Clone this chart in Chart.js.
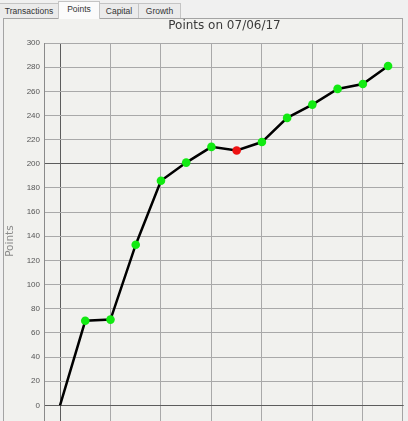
<!DOCTYPE html>
<html><head><meta charset="utf-8">
<script src="https://cdn.jsdelivr.net/npm/chart.js@4"></script>
<style>
html,body{margin:0;padding:0;width:408px;height:421px;overflow:hidden;background:#f0f0f0;font-family:"Liberation Sans",Arial,sans-serif;}
#tabs{position:absolute;left:0;top:0;width:408px;height:19px;}
.tab{position:absolute;top:3px;height:15px;border:1px solid #c4c4c4;border-bottom:none;background:#ebebeb;font-size:8.5px;color:#333;line-height:15px;text-align:center;box-sizing:border-box;}
.tab.sel{top:1px;height:18px;background:#fbfbfb;z-index:3;line-height:15px;}
#panel{position:absolute;left:3px;top:18px;width:400px;height:430px;border:1px solid #a4a4a4;background:#f1f1ee;box-sizing:border-box;}
#title{position:absolute;left:44px;width:361px;top:18px;line-height:14px;text-align:center;font-family:"DejaVu Sans";font-size:12px;color:#3a3a3a;z-index:2;}
#wrap{position:absolute;left:0;top:0;width:408px;height:448px;z-index:1;}
</style>
</head><body>
<div id="tabs">
  <div class="tab" style="left:-1px;width:60px;">Transactions</div>
  <div class="tab sel" style="left:58px;width:42px;">Points</div>
  <div class="tab" style="left:99px;width:40px;">Capital</div>
  <div class="tab" style="left:138px;width:43px;">Growth</div>
</div>
<div id="panel"></div>
<div id="title">Points on 07/06/17</div>
<div id="wrap"><canvas id="c"></canvas></div>
<script>
const dayIndex = [0, 1, 2, 3, 4, 5, 6, 7, 8, 9, 10, 11, 12, 13];
const points   = [0, 70, 71, 133, 186, 201, 214, 211, 218, 238, 249, 262, 266, 281];
const yAxisTitle = 'Points';

const GREEN = '#12ea12', RED = '#ee1212';
const darkGrid = '#5c5c5c', lightGrid = '#a9a9a9';

new Chart(document.getElementById('c'), {
  type: 'line',
  data: {
    datasets: [{
      data: dayIndex.map((d, i) => ({ x: d, y: points[i] })),
      borderColor: '#000',
      borderWidth: 2.5,
      tension: 0,
      pointRadius: c => c.dataIndex === 0 ? 0 : 4.3,
      pointHoverRadius: c => c.dataIndex === 0 ? 0 : 4.3,
      pointBorderWidth: 0,
      pointBackgroundColor: c => {
        const i = c.dataIndex;
        return i > 0 && points[i] < points[i - 1] ? RED : GREEN;
      }
    }]
  },
  options: {
    animation: false,
    responsive: true,
    maintainAspectRatio: false,
    layout: { padding: { left: 0, right: 1, top: 43, bottom: 0 } },
    plugins: { legend: { display: false }, tooltip: { enabled: false } },
    scales: {
      x: {
        type: 'linear', min: -0.635, max: 13.62,
        ticks: { display: false, stepSize: 2, includeBounds: false },
        grid: { color: c => (c.tick && c.tick.value === 0) ? darkGrid : lightGrid, lineWidth: 1, drawTicks: false },
        border: { display: false },
        afterFit: s => { s.height = 0; }
      },
      y: {
        min: -28, max: 300,
        ticks: { stepSize: 20, includeBounds: false, padding: 4, color: '#555',
                 font: { family: 'Liberation Sans', size: 8 },
                 callback: v => v < 0 ? '' : v },
        grid: { color: c => (c.tick && (c.tick.value === 0 || c.tick.value === 200)) ? darkGrid : lightGrid, lineWidth: 1, drawTicks: false },
        border: { display: true, color: '#8a8a8a' },
        title: { display: true, text: yAxisTitle, color: '#8a8a8a',
                 font: { family: 'DejaVu Sans', size: 10.5 }, padding: { top: 4, bottom: 0 } },
        afterFit: s => { s.width = 44; }
      }
    }
  }
});
</script>
</body></html>
